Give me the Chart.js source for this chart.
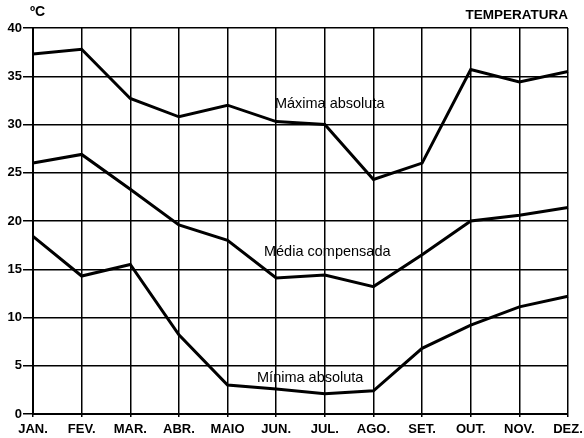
<!DOCTYPE html>
<html>
<head>
<meta charset="utf-8">
<script src="https://cdn.jsdelivr.net/npm/chart.js@4/dist/chart.umd.min.js"></script>
<style>
  html, body { margin: 0; padding: 0; background: #fff; }
  #wrap { width: 584px; height: 438px; }
</style>
</head>
<body>
<div id="wrap"><canvas id="chartTemp" width="584" height="438"></canvas></div>
<script>
// months on the x axis
var months = ["JAN.", "FEV.", "MAR.", "ABR.", "MAIO", "JUN.", "JUL.", "AGO.", "SET.", "OUT.", "NOV.", "DEZ."];

// temperatures (ºC)
var maxima = [37.3, 37.8, 32.7, 30.8, 32.0, 30.3, 30.0, 24.3, 26.0, 35.7, 34.4, 35.5];
var media  = [26.0, 26.9, 23.3, 19.6, 18.0, 14.1, 14.4, 13.2, 16.5, 20.0, 20.6, 21.4];
var minima = [18.4, 14.3, 15.5, 8.2, 3.0, 2.6, 2.1, 2.4, 6.8, 9.2, 11.1, 12.2];

var yTicks = [0, 5, 10, 15, 20, 25, 30, 35, 40];

// series labels written inside the plot: [text, x (month index), y (ºC)]
var seriesLabels = [
  ["Máxima absoluta", 6.1, 31.7],
  ["Média compensada", 6.05, 16.4],
  ["Mínima absoluta", 5.7, 3.3]
];

var fontFamily = "'Liberation Sans', Arial, sans-serif";

var textPlugin = {
  id: "textPlugin",
  afterDraw: function (chart) {
    var ctx = chart.ctx;
    var xs = chart.scales.x, ys = chart.scales.y;
    ctx.save();
    ctx.fillStyle = "#000";
    ctx.font = "14.5px " + fontFamily;
    ctx.textAlign = "center";
    ctx.textBaseline = "alphabetic";
    seriesLabels.forEach(function (l) {
      ctx.fillText(l[0], xs.getPixelForValue(l[1]), ys.getPixelForValue(l[2]));
    });
    // unit and title
    ctx.font = "bold 14px " + fontFamily;
    ctx.textAlign = "left";
    ctx.textBaseline = "middle";
    ctx.fillText("ºC", chart.chartArea.left - 3, 12);
    ctx.font = "bold 13.5px " + fontFamily;
    ctx.textAlign = "right";
    ctx.fillText("TEMPERATURA", chart.chartArea.right, 15);
    ctx.restore();
  }
};

function lineSet(label, data) {
  return {
    label: label,
    data: data,
    borderColor: "#000",
    borderWidth: 3,
    pointRadius: 0,
    tension: 0,
    fill: false
  };
}

new Chart(document.getElementById("chartTemp").getContext("2d"), {
  type: "line",
  data: {
    labels: months,
    datasets: [
      lineSet("Máxima absoluta", maxima),
      lineSet("Média compensada", media),
      lineSet("Mínima absoluta", minima)
    ]
  },
  options: {
    responsive: false,
    animation: false,
    devicePixelRatio: 1,
    layout: { padding: { top: 28, right: 16, left: 0, bottom: 0 } },
    plugins: {
      legend: { display: false },
      tooltip: { enabled: false }
    },
    scales: {
      x: {
        offset: false,
        afterFit: function (s) {
          s.height = 24;
          s.paddingRight = 0;
        },
        grid: { color: "#000", lineWidth: 1.5, tickLength: 3 },
        border: { color: "#000", width: 2 },
        ticks: {
          color: "#000",
          padding: 5,
          maxRotation: 0,
          autoSkip: false,
          font: { size: 13, family: fontFamily, weight: "bold" }
        }
      },
      y: {
        min: 0,
        max: 40,
        afterFit: function (s) { s.width = 33; },
        afterBuildTicks: function (s) {
          s.ticks = yTicks.map(function (v) { return { value: v }; });
        },
        grid: { color: "#000", lineWidth: 1.5, tickLength: 10 },
        border: { color: "#000", width: 2 },
        ticks: {
          color: "#000",
          padding: 1,
          font: { size: 13, family: fontFamily, weight: "bold" }
        }
      }
    }
  },
  plugins: [textPlugin]
});
</script>
</body>
</html>
